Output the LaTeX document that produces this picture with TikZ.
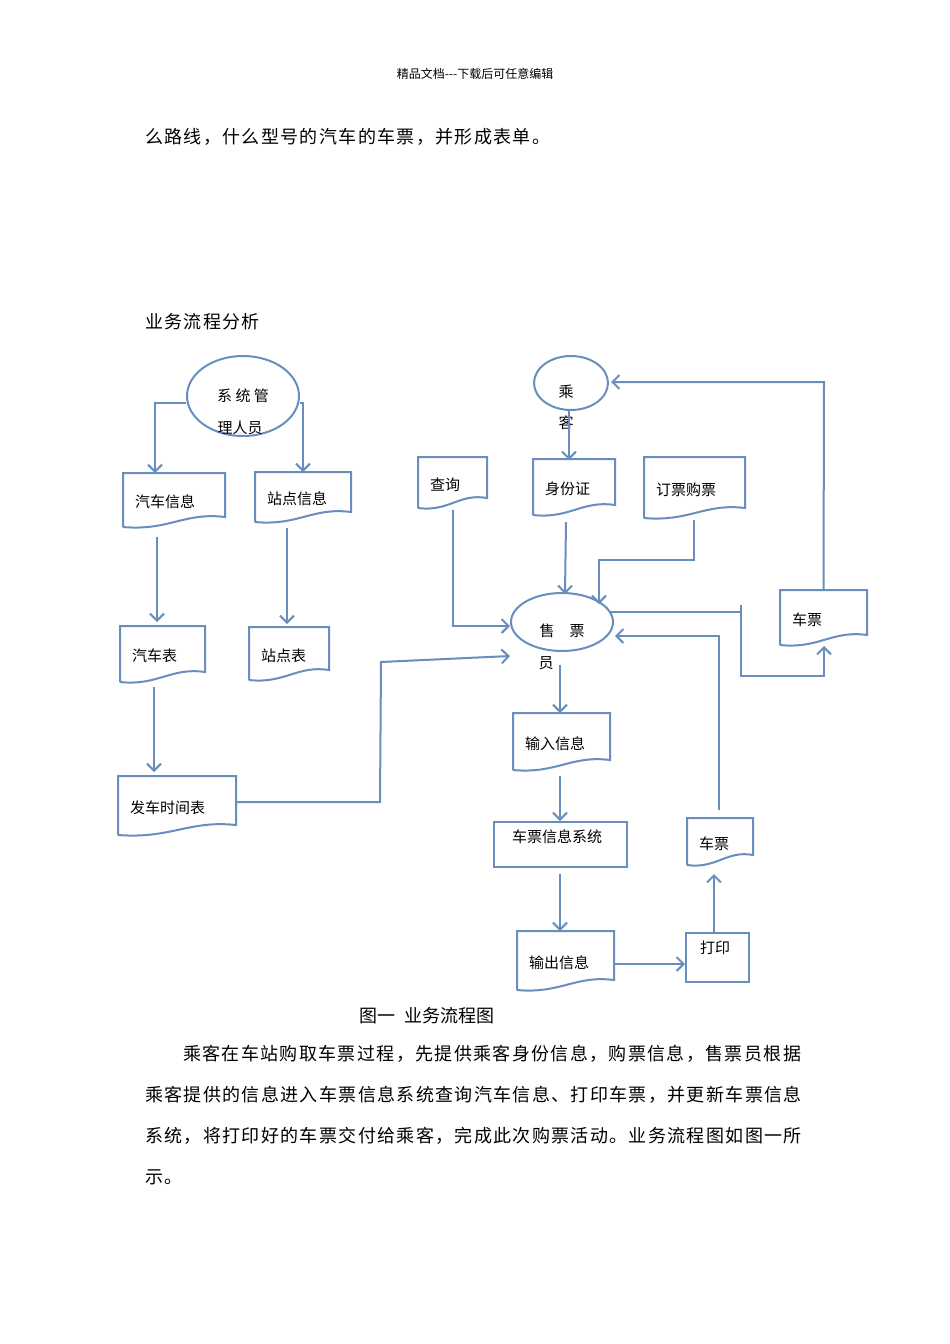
\documentclass[tikz,border=0pt]{standalone}
\usepackage{fontspec}
\setmainfont{Noto Sans CJK SC}
\usetikzlibrary{shapes.geometric,arrows.meta,calc}
\definecolor{bl}{RGB}{104,142,190}
\tikzset{ln/.style={draw=bl,line width=2pt},
 arr/.style={ln,-{Straight Barb[length=7pt,width=14pt,line width=2pt]}},
 lbl/.style={font=\fontsize{15}{15}\selectfont,inner sep=0pt},
 body/.style={font=\fontsize{18}{18}\selectfont\addfontfeature{LetterSpace=7.5},anchor=west,inner sep=0pt},
 ell/.style={ellipse,draw=bl,line width=2pt,inner sep=0pt}}
\newcommand\docshape[6]{%
 \node[lbl,anchor=west] (#1) at ({#2+12},{(#3+#5)/2+7}) {#6};
 \coordinate (#1top) at ({(#2+#4)/2},#3);
 \draw[ln] (#2,#5+10) -- (#2,#3) -- (#4,#3) -- (#4,#5) .. controls ({#4-0.4*(#4-#2)},#5-5) and ({#2+0.45*(#4-#2)},#5+14) .. (#2,#5+10);}
\begin{document}
\begin{tikzpicture}[x=1pt,y=-1pt]
\useasboundingbox[fill=white] (0,0) rectangle (950,1344);
\node[font=\fontsize{12}{12}\selectfont] (hdr) at (475,74) {精品文档{-}{-}{-}下载后可任意编辑};
\node[body] (t1) at (145,137) {么路线，什么型号的汽车的车票，并形成表单。};
\node[body] (t2) at (145,322) {业务流程分析};
% admin
\node[ell,minimum width=112,minimum height=80] (adm) at (243,396) {};
\node[lbl] (adm1) at (243,396) {系 统 管};
\node[lbl] (adm2) at (240,428) {理人员};
\docshape{qcxx}{123}{473}{225}{517}{汽车信息}
\docshape{zdxx}{255}{472}{351}{512}{站点信息}
\docshape{qcb}{120}{626}{205}{672}{汽车表}
\docshape{zdb}{249}{627}{329}{670}{站点表}
\docshape{fcsj}{118}{776}{236}{825}{发车时间表}
\draw[arr] (adm.west |- 0,403) -- (155,403) -- (155,473);
\draw[arr] (adm.east |- 0,403) -- (303,403) -- (303,472);
\draw[arr] (157,537) -- (157,622);
\draw[arr] (287,528) -- (287,624);
\draw[arr] (154,687) -- (154,772);
% passenger
\node[ell,minimum width=74,minimum height=54] (ck) at (571,383) {};
\node[lbl] (ck1) at (566,392) {乘};
\node[lbl] (ck2) at (566,423) {客};
\docshape{sfz}{533}{459}{615}{505}{身份证}
\docshape{cx}{418}{457}{487}{498}{查询}
\docshape{dp}{644}{457}{745}{508}{订票购票}
\node[ell,minimum width=102,minimum height=58] (spy) at (562,622) {};
\node[lbl] (spy1) at (562,631) {售\quad 票};
\node[lbl] (spy2) at (546,663) {员};
\docshape{cp1}{780}{590}{867}{635}{车票}
\docshape{srxx}{513}{713}{610}{760}{输入信息}
\node[lbl,draw=bl,line width=2pt,minimum width=133,minimum height=45] (xt) at (560.5,844.5) {};
\node[lbl] (xtl) at (557,837) {车票信息系统};
\docshape{scxx}{517}{931}{614}{980}{输出信息}
\node[lbl,draw=bl,line width=2pt,minimum width=63,minimum height=49] (dy) at (717.5,957.5) {};
\node[lbl] (dyl) at (715,948) {打印};
\docshape{cp2}{687}{818}{753}{855}{车票}
% connectors
\draw[arr] (236,802) -- (380,802) -- (381,662) -- (spy.west |- 0,656);
\draw[arr] (569,410) -- (569,460);
\draw[arr] (566,522) -- (565,594);
\draw[arr] (453,510) -- (453,626) -- (510,626);
\draw[arr] (694,520) -- (694,560) -- (599,560) -- (599,604);
\draw[ln] (609,612) -- (741,612);
\draw[arr] (741,605) -- (741,676) -- (824,676) -- (824,646);
\draw[arr] (cp1top) -- (824,382) -- (611,382);
\draw[arr] (560,665) -- (560,713);
\draw[arr] (560,776) -- (xt.north -| 560,0);
\draw[arr] (560,874) -- (560,931);
\draw[arr] (614,964) -- (dy.west |- 0,964);
\draw[arr] (dy.north -| 714,0) -- (714,874);
\draw[arr] (719,810) -- (719,636) -- (615,636);
% text
\node[font=\fontsize{18}{18}\selectfont] (cap) at (427,1016) {图一\ \ 业务流程图};
\node[body] (p1) at (183,1054) {乘客在车站购取车票过程，先提供乘客身份信息，购票信息，售票员根据};
\node[body] (p2) at (145,1095) {乘客提供的信息进入车票信息系统查询汽车信息、打印车票，并更新车票信息};
\node[body] (p3) at (145,1136) {系统，将打印好的车票交付给乘客，完成此次购票活动。业务流程图如图一所};
\node[body] (p4) at (145,1177) {示。};
\end{tikzpicture}
\end{document}
